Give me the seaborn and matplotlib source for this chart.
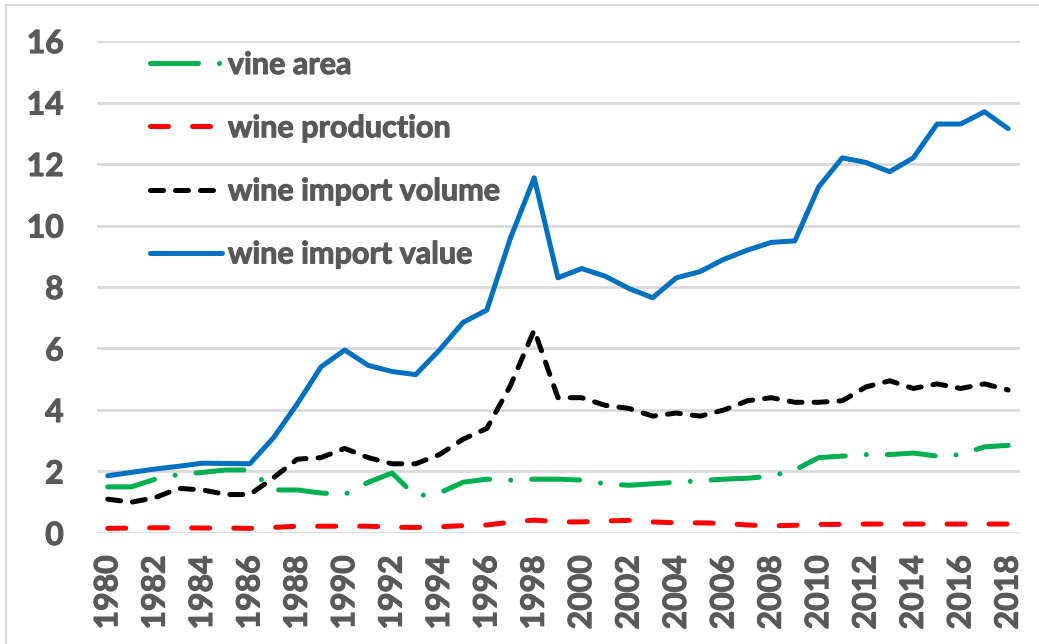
import numpy as np
import pandas as pd
import matplotlib.pyplot as plt
import matplotlib.patheffects as pe
import seaborn as sns
from matplotlib.patches import Rectangle

years = list(range(1980, 2019))

vine_area = [1.50, 1.50, 1.75, 1.90, 1.97, 2.05, 2.05, 1.40, 1.40, 1.30,
             1.25, 1.65, 1.95, 1.20, 1.30, 1.65, 1.75, 1.72, 1.75, 1.75,
             1.72, 1.60, 1.55, 1.60, 1.65, 1.70, 1.75, 1.78, 1.85, 2.05,
             2.45, 2.50, 2.55, 2.55, 2.60, 2.50, 2.55, 2.80, 2.85]

wine_production = [0.15, 0.16, 0.17, 0.17, 0.16, 0.16, 0.15, 0.18, 0.22, 0.22,
                   0.22, 0.22, 0.19, 0.18, 0.20, 0.24, 0.26, 0.35, 0.42, 0.36,
                   0.36, 0.39, 0.41, 0.36, 0.33, 0.33, 0.31, 0.26, 0.23, 0.25,
                   0.28, 0.28, 0.29, 0.29, 0.29, 0.29, 0.29, 0.29, 0.29]

import_volume = [1.10, 1.00, 1.15, 1.45, 1.40, 1.25, 1.25, 1.80, 2.40, 2.45,
                 2.75, 2.45, 2.25, 2.25, 2.55, 3.05, 3.40, 4.80, 6.60, 4.40,
                 4.40, 4.15, 4.05, 3.80, 3.90, 3.80, 4.00, 4.30, 4.40, 4.25,
                 4.25, 4.30, 4.75, 4.95, 4.70, 4.85, 4.70, 4.85, 4.65]

import_value = [1.86, 1.97, 2.08, 2.17, 2.27, 2.26, 2.25, 3.10, 4.20, 5.40,
                5.95, 5.45, 5.25, 5.15, 5.95, 6.85, 7.25, 9.60, 11.55, 8.30,
                8.60, 8.35, 7.95, 7.65, 8.30, 8.50, 8.90, 9.20, 9.45, 9.50,
                11.25, 12.20, 12.05, 11.75, 12.20, 13.30, 13.30, 13.70, 13.15]

series_names = ["vine area", "wine production", "wine import volume", "wine import value"]
colors = ["#00B050", "#FF0000", "#000000", "#0070C0"]
dash_styles = [(9.6, 4.2, 0.01, 4.2), (3.6, 4.8), (2.6, 2.4), ""]

df = pd.concat([
    pd.DataFrame({"year": years, "value": vals, "series": name})
    for name, vals in zip(series_names, [vine_area, wine_production, import_volume, import_value])
])

sns.set_theme(style="white")
plt.rcParams["font.family"] = ["Lato", "DejaVu Sans"]

fig = plt.figure(figsize=(10.39, 6.44), dpi=100)
ax = fig.add_axes([0.0934, 0.1724, 0.8883, 0.7639])

sns.lineplot(data=df, x="year", y="value", hue="series", style="series",
             hue_order=series_names, style_order=series_names,
             palette=dict(zip(series_names, colors)),
             dashes=dict(zip(series_names, dash_styles)),
             linewidth=3.6, dash_capstyle="round", solid_capstyle="round",
             legend=False, ax=ax)

text_color = "#595959"
heavy = [pe.withStroke(linewidth=0.8, foreground=text_color)]
ax.set_xlim(1979.55, 2018.5)
ax.set_ylim(0, 16)
ax.set_yticks(range(0, 17, 2))
ax.set_xticks(years[::2])
ax.set_xticklabels([str(y) for y in years[::2]], rotation=90)
ax.grid(axis="y", color="#d9d9d9", linewidth=2)
ax.set_axisbelow(True)
for s in ax.spines.values():
    s.set_visible(False)
ax.tick_params(axis="both", length=0, labelsize=23, labelcolor=text_color)
ax.tick_params(axis="y", pad=24)
ax.tick_params(axis="x", pad=16)
for lab in ax.get_xticklabels() + ax.get_yticklabels():
    lab.set_fontweight("bold")
    lab.set_path_effects(heavy)
ax.set_xlabel("")
ax.set_ylabel("")

leg = ax.legend(handles=ax.get_lines()[:4], labels=series_names,
                loc="upper left", bbox_to_anchor=(150 / 1039, 1 - 51 / 644),
                bbox_transform=fig.transFigure, frameon=False,
                borderpad=0, borderaxespad=0, handlelength=2.35,
                handletextpad=0.2, labelspacing=1.15,
                prop={"size": 22, "weight": "bold"})
for t in leg.get_texts():
    t.set_color(text_color)
    t.set_path_effects(heavy)

fig.patches.append(Rectangle((6 / 1039, -0.1), 1.2, 1 - 5 / 644 + 0.1,
                             transform=fig.transFigure, fill=False,
                             edgecolor="#d9d9d9", linewidth=1.5))

fig.savefig("out.png", dpi=100)
